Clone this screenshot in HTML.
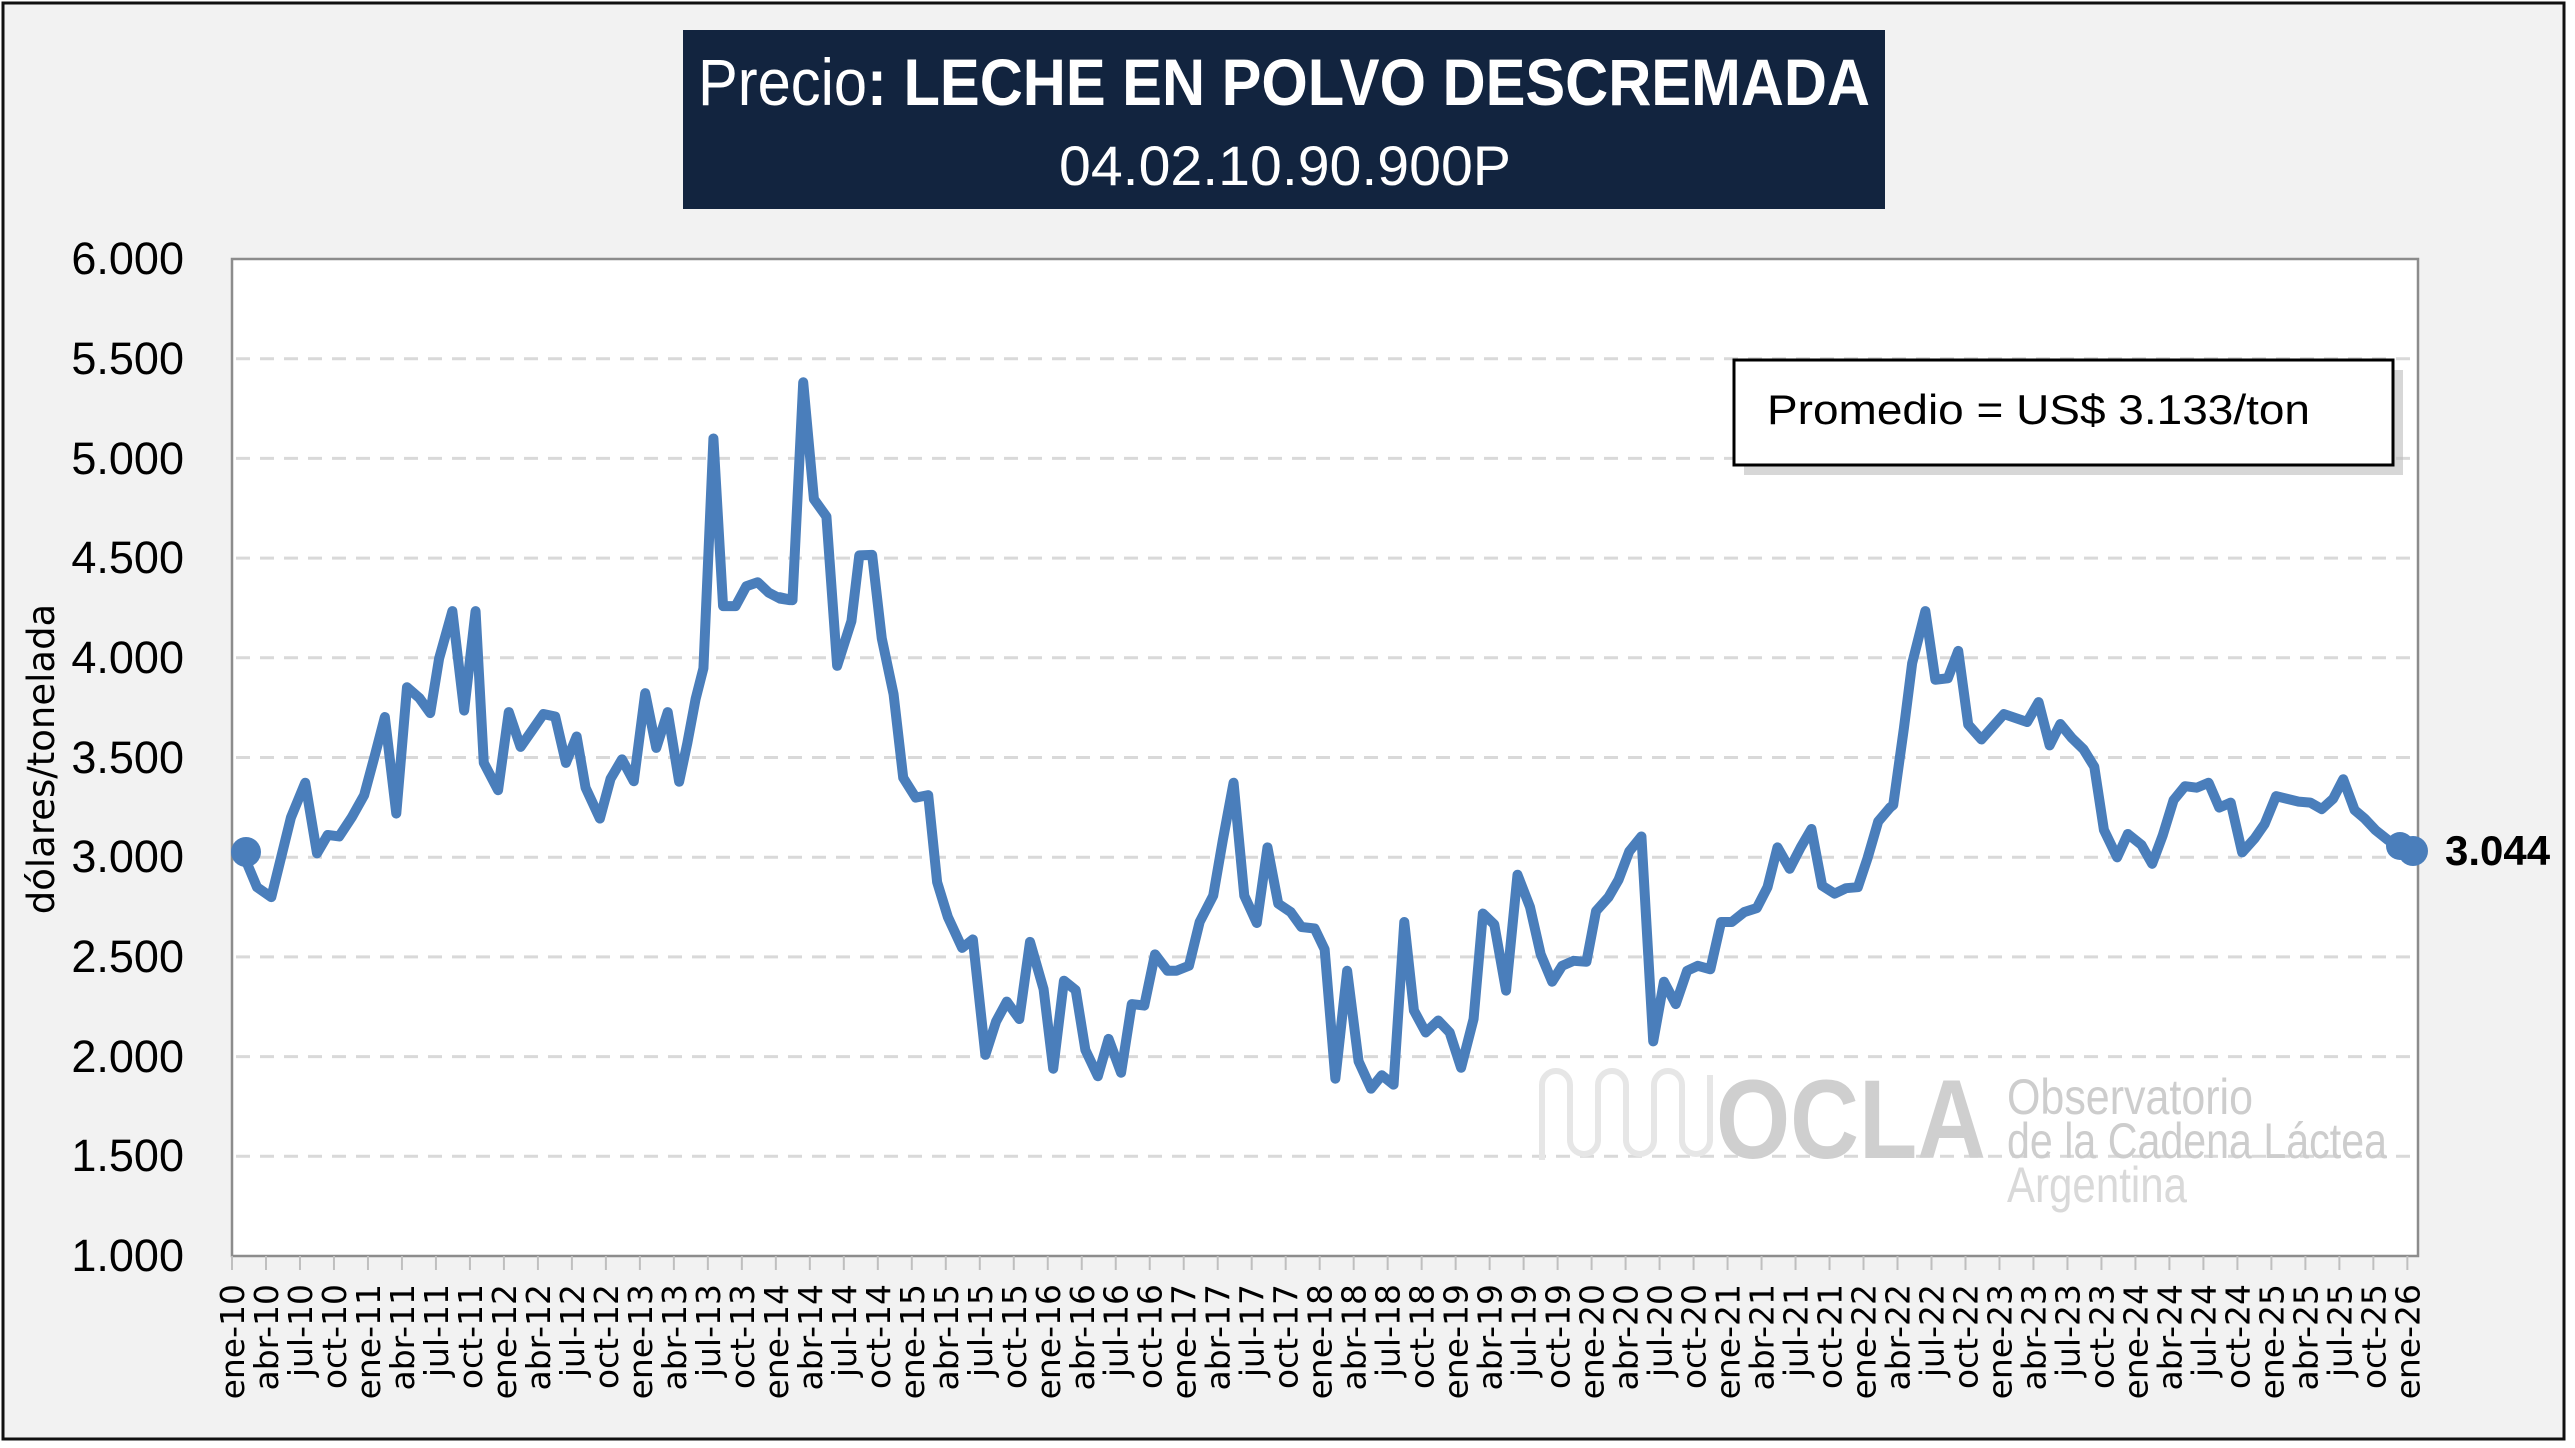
<!DOCTYPE html>
<html><head><meta charset="utf-8"><style>
html,body{margin:0;padding:0;background:#fff;}
svg{display:block;}
</style></head><body>
<svg width="2575" height="1448" viewBox="0 0 2575 1448" xmlns="http://www.w3.org/2000/svg">
<rect x="0" y="0" width="2575" height="1448" fill="#fff"/>
<rect x="3" y="3" width="2561" height="1436" fill="#f2f2f2" stroke="#111" stroke-width="3"/>
<!-- title box -->
<rect x="683" y="30" width="1202" height="179" fill="#12243f"/>
<text x="1284" y="105" text-anchor="middle" font-family="Liberation Sans Narrow, Liberation Sans, sans-serif" font-size="66" fill="#fff" textLength="1172" lengthAdjust="spacingAndGlyphs">Precio<tspan font-weight="bold">: LECHE EN POLVO DESCREMADA</tspan></text>
<text x="1285" y="185" text-anchor="middle" font-family="Liberation Sans Narrow, Liberation Sans, sans-serif" font-size="56" fill="#fff" textLength="452" lengthAdjust="spacingAndGlyphs">04.02.10.90.900P</text>
<!-- plot area -->
<rect x="232" y="259" width="2186" height="997" fill="#fff" stroke="#8c8c8c" stroke-width="2.5"/>
<g stroke="#d9d9d9" stroke-width="3" stroke-dasharray="14,10">
<line x1="236" x2="2416" y1="358.7" y2="358.7"/>
<line x1="236" x2="2416" y1="458.4" y2="458.4"/>
<line x1="236" x2="2416" y1="558.1" y2="558.1"/>
<line x1="236" x2="2416" y1="657.8" y2="657.8"/>
<line x1="236" x2="2416" y1="757.5" y2="757.5"/>
<line x1="236" x2="2416" y1="857.2" y2="857.2"/>
<line x1="236" x2="2416" y1="956.9" y2="956.9"/>
<line x1="236" x2="2416" y1="1056.6" y2="1056.6"/>
<line x1="236" x2="2416" y1="1156.3" y2="1156.3"/>
</g>
<!-- watermark -->
<g fill="none" stroke="#e6e6e6" stroke-width="6">
<path d="M1542,1160 V1085 a14,14 0 0 1 28,0 V1140 a14,14 0 0 0 28,0 V1085 a14,14 0 0 1 28,0 V1140 a14,14 0 0 0 28,0 V1085 a14,14 0 0 1 28,0 V1140 a14,14 0 0 0 28,0 V1075"/>
</g>
<text x="1716" y="1158" font-family="Liberation Sans, sans-serif" font-weight="bold" font-size="112" fill="#cfcfcf" textLength="270" lengthAdjust="spacingAndGlyphs">OCLA</text>
<g font-family="Liberation Sans Narrow, Liberation Sans, sans-serif" fill="#cdcdcd">
<text x="2007" y="1114" font-size="50" textLength="246" lengthAdjust="spacingAndGlyphs">Observatorio</text>
<text x="2007" y="1158" font-size="50" textLength="380" lengthAdjust="spacingAndGlyphs">de la Cadena Láctea</text>
<text x="2007" y="1202" font-size="50" fill="#d9d9d9" textLength="180" lengthAdjust="spacingAndGlyphs">Argentina</text>
</g>
<!-- promedio box -->
<rect x="1744" y="370" width="659" height="105" fill="#bdbdbd" opacity="0.6"/>
<rect x="1734" y="360" width="659" height="105" fill="#fff" stroke="#000" stroke-width="3"/>
<text x="1767" y="424" font-family="Liberation Sans, sans-serif" font-size="42" fill="#000" textLength="543" lengthAdjust="spacingAndGlyphs">Promedio = US$ 3.133/ton</text>
<!-- series -->
<g fill="none" stroke="#4a7ebb" stroke-width="10" stroke-linejoin="round" stroke-linecap="round">
<polyline vector-effect="non-scaling-stroke" transform="translate(232,340) scale(0.35714,0.49744)" points="28,1028 70,1100 110,1120 165,960 205,890 238,1032 268,995 300,998 335,960 370,915 400,835 428,758 460,952 490,698 525,720 555,750 580,640 617,545 650,745 682,545 705,850 745,905 775,748 808,818 840,785 872,752 905,757 935,850 965,797 990,900 1030,962 1060,882 1092,843 1125,887 1157,710 1188,820 1220,748 1252,888 1275,810 1298,722 1320,660 1348,198 1375,535 1410,535 1440,495 1472,487 1503,508 1535,520 1562,523 1568,523"/>
<polyline vector-effect="non-scaling-stroke" transform="translate(780,340) scale(0.35714,0.49744)" points="0,517 35,523 65,85 95,320 130,355 160,655 200,565 222,433 258,432 285,600 318,712 345,880 380,920 415,915 440,1090 470,1160 510,1222 540,1205 575,1437 605,1370 635,1330 670,1365 700,1210 738,1305 765,1465 795,1288 828,1307 855,1427 890,1480 920,1405 955,1473 985,1335 1020,1338 1050,1235 1085,1268 1110,1268 1145,1258 1175,1170 1213,1117 1240,1005 1270,890 1300,1117 1335,1172 1365,1020 1395,1133 1430,1150 1460,1180 1497,1183 1525,1225 1555,1485 1568,1400"/>
<polyline vector-effect="non-scaling-stroke" transform="translate(1330,340) scale(0.35714,0.49744)" points="28,1400 48,1268 80,1450 115,1505 145,1478 178,1497 208,1170 235,1348 268,1392 303,1368 335,1392 367,1463 402,1365 428,1153 460,1175 493,1308 525,1075 560,1140 590,1235 622,1290 650,1258 682,1248 718,1250 745,1148 780,1120 808,1085 838,1028 872,998 905,1410 935,1290 968,1335 1000,1268 1030,1258 1065,1265 1095,1170 1125,1170 1160,1150 1195,1142 1225,1100 1253,1020 1287,1063 1318,1020 1348,983 1378,1097 1413,1113 1445,1102 1478,1100 1505,1042 1535,968 1568,940"/>
<polyline vector-effect="non-scaling-stroke" transform="translate(1870,340) scale(0.35714,0.49744)" points="56,940 65,935 95,780 118,650 155,545 183,683 218,680 247,625 275,773 312,803 375,752 440,768 472,728 503,815 533,772 565,800 598,823 628,858 655,985 692,1040 722,993 760,1015 790,1053 820,995 850,925 882,897 915,900 948,890 978,940 1010,930 1042,1030 1077,1002 1105,973 1137,917 1200,928 1233,930 1265,943 1297,922 1325,883 1357,945 1385,962 1415,985 1450,1005 1485,1020 1518,1025"/>
</g>
<g fill="#4a7ebb">
<circle cx="246" cy="852" r="15"/>
<circle cx="2400" cy="846" r="14"/>
<circle cx="2413" cy="851" r="15"/>
</g>
<text x="2445" y="865" font-family="Liberation Sans Narrow, Liberation Sans, sans-serif" font-weight="bold" font-size="42" fill="#000">3.044</text>
<!-- y labels -->
<g font-family="Liberation Sans Narrow, Liberation Sans, sans-serif" font-size="45" fill="#000" text-anchor="end">
<text x="184" y="274">6.000</text>
<text x="184" y="374">5.500</text>
<text x="184" y="474">5.000</text>
<text x="184" y="573">4.500</text>
<text x="184" y="673">4.000</text>
<text x="184" y="773">3.500</text>
<text x="184" y="872">3.000</text>
<text x="184" y="972">2.500</text>
<text x="184" y="1072">2.000</text>
<text x="184" y="1171">1.500</text>
<text x="184" y="1271">1.000</text>
</g>
<text transform="translate(54,759) rotate(-90)" text-anchor="middle" font-family="DejaVu Sans, sans-serif" font-size="37" fill="#000">dólares/tonelada</text>
<!-- x ticks and labels -->
<g id="xt" stroke="#bfbfbf" stroke-width="2"></g>
<g id="xl" font-family="DejaVu Sans, sans-serif" font-size="33" fill="#000"></g>
<script>
(function(){
var ns="http://www.w3.org/2000/svg";
var mo=["ene","abr","jul","oct"];
var xt=document.getElementById("xt"),xl=document.getElementById("xl");
for(var k=0;k<=64;k++){
  var x=232+k*3*11.33;
  var l=document.createElementNS(ns,"line");
  l.setAttribute("x1",x);l.setAttribute("x2",x);l.setAttribute("y1",1256);l.setAttribute("y2",1270);
  xt.appendChild(l);
  var yr=10+Math.floor(k/4);
  var t=document.createElementNS(ns,"text");
  var cx=232+k*3*11.33+12;
  t.setAttribute("transform","translate("+cx+",1284) rotate(-90)");
  t.setAttribute("text-anchor","end");
  t.textContent=mo[k%4]+"-"+yr;
  xl.appendChild(t);
}
})();
</script>
</svg>
</body></html>
